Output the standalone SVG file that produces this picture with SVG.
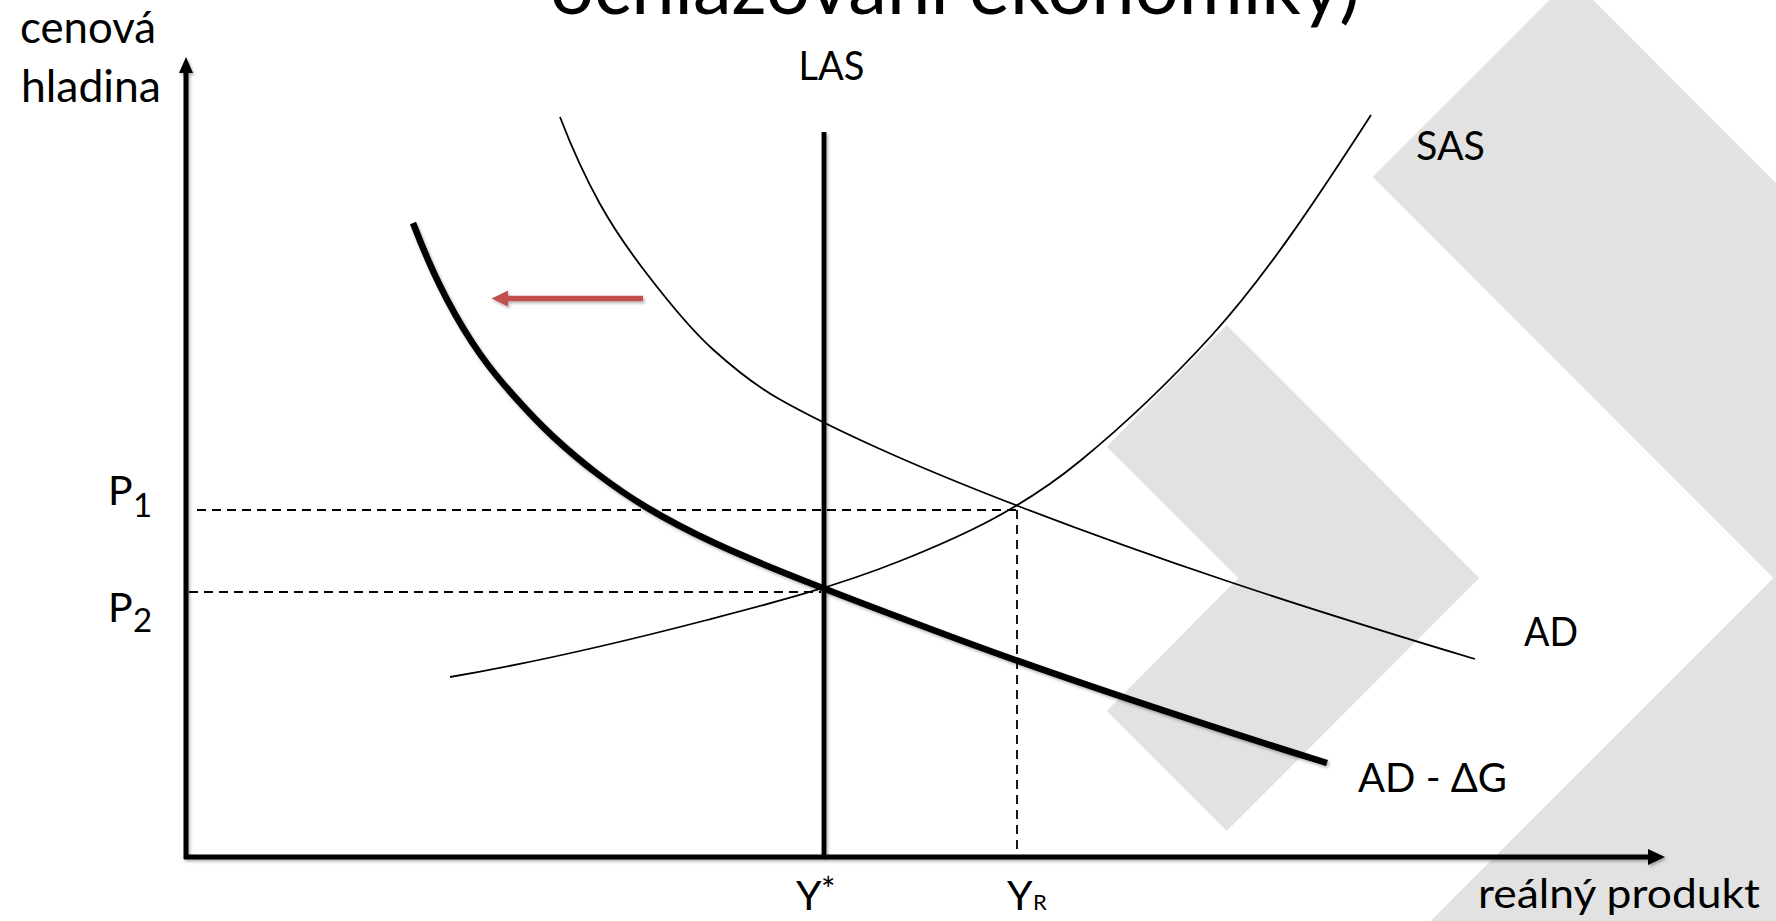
<svg xmlns="http://www.w3.org/2000/svg" width="1776" height="921" viewBox="0 0 1776 921">
<style>
.txt{font-family:Lato,"Liberation Sans",sans-serif;fill:#000}
.lbl{font-size:41px}
.thin{fill:none;stroke:#000;stroke-width:1.8;stroke-linecap:butt}
.dash{fill:none;stroke:#000;stroke-width:1.8;stroke-dasharray:9 6}
.bg{fill:#e1e2e1}
</style>
<defs>
<filter id="sh" filterUnits="userSpaceOnUse" x="0" y="0" width="1776" height="921">
<feDropShadow dx="1.5" dy="2" stdDeviation="1.8" flood-color="#000" flood-opacity="0.3"/>
</filter>
</defs>
<rect width="1776" height="921" fill="#fff"/>
<g id="background">
<polygon class="bg" points="1372.7,177 1571.4,-21.7 2171,578 1571.4,1177.7 1372.7,979 1773.4,578"/>
<polygon class="bg" points="1106.7,446.7 1226.7,325 1479.3,578 1226.7,831 1106.7,711 1238.3,578"/>
</g>
<g id="title">
<text class="txt" x="550" y="14" font-size="78" textLength="810" lengthAdjust="spacingAndGlyphs">ochlazování ekonomiky)</text>
</g>
<g id="guides">
<line class="dash" x1="197" y1="510" x2="1017" y2="510"/>
<line class="dash" x1="189" y1="592" x2="821" y2="592"/>
<line class="dash" x1="1017" y1="510" x2="1017" y2="856"/>
</g>
<g id="curves">
<path id="SAS" class="thin" d="M450,677 C535.7,662.4 621.3,642.3 707,620 C771.3,603.3 835.7,586.7 900,561 C960,537 1020,510.2 1080,461 C1124.3,424.7 1168.7,382.7 1213,334 C1265.7,276 1318.3,196.7 1371,115"/>
<path id="AD" class="thin" d="M560,117 C573.3,151.7 586.7,180 600,204 C615.7,232.2 631.3,253.6 647,274 C669,302.6 691,329.7 713,349.5 C735.3,369.6 757.7,387 780,399.5 C813.3,418.2 846.7,434 880,449 C926,469.7 972,488.3 1018,506 C1087.7,532.8 1157.3,557.7 1227,581 C1309.7,608.7 1392.3,634.2 1475,659"/>
<path id="AD-dG" filter="url(#sh)" fill="none" stroke="#000" stroke-width="6.5" d="M413,223 C424.3,252.5 435.7,278 447,299.5 C458,320.4 469,338.4 480,354 C491,369.6 502,382.7 513,395 C526.3,409.9 539.7,424.1 553,436.5 C567.7,450.1 582.3,462.4 597,473.5 C613.7,486.2 630.3,497.6 647,507.6 C669,520.8 691,532 713,542.3 C750,559.7 787,574.1 824,588.5 C869.3,606.2 914.7,623.2 960,640 C1015.7,660.6 1071.3,679.8 1127,698.4 C1193.7,720.7 1260.3,742.3 1327,763"/>
<line id="LAS" filter="url(#sh)" x1="824" y1="132" x2="824" y2="857" stroke="#000" stroke-width="4.8"/>
</g>
<g id="axes" filter="url(#sh)">
<line x1="186" y1="859" x2="186" y2="70" stroke="#000" stroke-width="5"/>
<polygon points="186,57 179,73 193,73" fill="#000"/>
<line x1="184" y1="857" x2="1650" y2="857" stroke="#000" stroke-width="5"/>
<polygon points="1665,857 1648,849 1648,865" fill="#000"/>
</g>
<g id="shift-arrow" filter="url(#sh)">
<line x1="643" y1="298.5" x2="505" y2="298.5" stroke="#c0504d" stroke-width="5.3"/>
<polygon points="491.5,298.5 508,290.5 508,306.5" fill="#c0504d"/>
</g>
<g id="labels">
<text class="txt" x="20" y="43" font-size="44" textLength="136" lengthAdjust="spacingAndGlyphs">cenová</text>
<text class="txt" x="21" y="102" font-size="44" textLength="140" lengthAdjust="spacingAndGlyphs">hladina</text>
<text class="txt lbl" x="798.5" y="80" textLength="66" lengthAdjust="spacingAndGlyphs">LAS</text>
<text class="txt lbl" x="1416" y="160" textLength="69" lengthAdjust="spacingAndGlyphs">SAS</text>
<text class="txt lbl" x="1524" y="646" textLength="54" lengthAdjust="spacingAndGlyphs">AD</text>
<text class="txt lbl" x="1358" y="792" textLength="149" lengthAdjust="spacingAndGlyphs">AD - ΔG</text>
<text class="txt lbl" x="1478" y="908" textLength="282" lengthAdjust="spacingAndGlyphs">reálný produkt</text>
<text class="txt lbl" x="796" y="910">Y</text>
<text class="txt" x="821" y="902" font-size="34">*</text>
<text class="txt lbl" x="1007" y="910">Y</text>
<text class="txt" x="1033" y="910" font-size="22">R</text>
<text class="txt lbl" x="108" y="505">P</text>
<text class="txt" x="133" y="517" font-size="33">1</text>
<text class="txt lbl" x="108" y="621.7">P</text>
<text class="txt" x="133" y="632" font-size="33">2</text>
</g>
</svg>
